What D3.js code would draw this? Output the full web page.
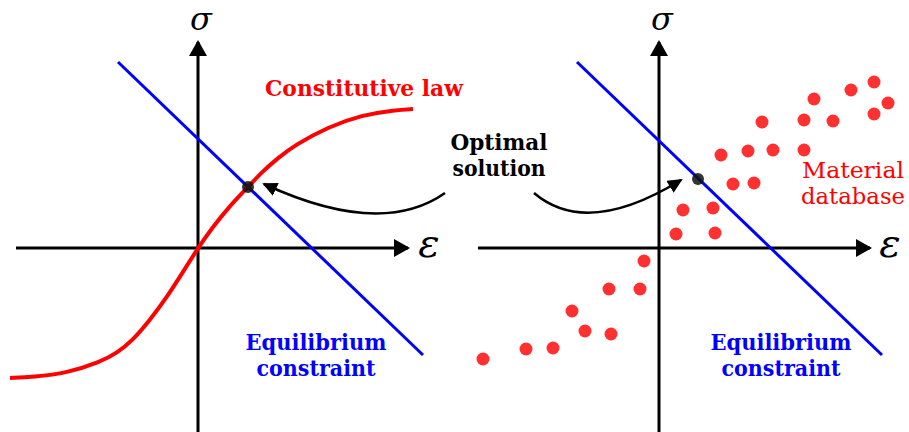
<!DOCTYPE html>
<html>
<head>
<meta charset="utf-8">
<script src="https://cdn.jsdelivr.net/npm/d3@7"></script>
<style>
  body { margin: 0; background: #fff; }
  svg text { font-family: "DejaVu Serif", "Liberation Serif", serif; }
</style>
</head>
<body>
<svg id="chart"></svg>
<script>
// constitutive law (strain, stress in plot units)
var lawStrain = [-1.88, -1.65, -1.31, -0.98, -0.81, -0.65, -0.48, -0.31, -0.15, 0, 0.14, 0.30, 0.50, 0.64, 0.80, 0.97, 1.30, 1.64, 1.97, 2.15];
var lawStress = [-1.30, -1.29, -1.25, -1.14, -1.05, -0.92, -0.72, -0.49, -0.24, 0, 0.20, 0.40, 0.61, 0.76, 0.90, 1.03, 1.21, 1.33, 1.38, 1.39];

// equilibrium constraint end points
var eqStrainLeft = [-0.80, 2.25];
var eqStrainRight = [-0.82, 2.23];
var eqStress = [1.86, -1.07];

// material database points (right panel)
var dbStrain = [2.15, 1.92, 2.29, 1.55, 2.15, 1.03, 1.45, 1.74, 0.62, 0.89, 1.14, 1.45, 0.74, 0.95, 0.24, 0.54, 0.17, 0.56, -0.15, -0.50, -0.19, -0.87, -0.74, -0.48, -1.33, -1.06, -1.76];
var dbStress = [1.66, 1.58, 1.45, 1.49, 1.34, 1.26, 1.28, 1.27, 0.93, 0.97, 0.98, 0.98, 0.64, 0.65, 0.38, 0.40, 0.14, 0.15, -0.13, -0.41, -0.41, -0.63, -0.83, -0.86, -1.01, -1.00, -1.11];

// optimal solutions [left, right]
var optStrain = [0.50, 0.39];
var optStress = [0.61, 0.69];

var width = 909,
    height = 432;

var svg = d3.select('#chart')
    .attr('width', width)
    .attr('height', height);

svg.append('rect').attr('width', width).attr('height', height).attr('fill', '#fff');

var defs = svg.append('defs');

function addHead(id, len, wide) {
    defs.append('marker')
        .attr('id', id)
        .attr('viewBox', '0 0 ' + len + ' ' + wide)
        .attr('refX', len - 2)
        .attr('refY', wide / 2)
        .attr('markerWidth', len)
        .attr('markerHeight', wide)
        .attr('markerUnits', 'userSpaceOnUse')
        .attr('orient', 'auto')
        .append('path')
        .attr('d', 'M0,0L' + len + ',' + (wide / 2) + 'L0,' + wide + 'Z')
        .attr('fill', '#000');
}
addHead('axisHead', 16, 18);
addHead('noteHead', 15, 14);

function makePanel(ox) {
    return {
        x: d3.scaleLinear().domain([0, 1]).range([ox, ox + 100]),
        y: d3.scaleLinear().domain([0, 1]).range([248, 148])
    };
}

var left = makePanel(198),
    right = makePanel(659);

function drawAxes(p, xFrom, xTo) {
    var g = svg.append('g');
    g.append('line')
        .attr('x1', p.x(xFrom)).attr('x2', p.x(xTo))
        .attr('y1', p.y(0)).attr('y2', p.y(0))
        .attr('stroke', '#000').attr('stroke-width', 3)
        .attr('marker-end', 'url(#axisHead)');
    g.append('line')
        .attr('x1', p.x(0)).attr('x2', p.x(0))
        .attr('y1', p.y(-1.9)).attr('y2', p.y(2.06))
        .attr('stroke', '#000').attr('stroke-width', 3)
        .attr('marker-end', 'url(#axisHead)');
    g.append('text')
        .attr('x', p.x(0.03)).attr('y', p.y(2.18))
        .attr('text-anchor', 'middle')
        .attr('font-style', 'italic')
        .attr('font-size', 32)
        .text('σ');
    g.append('text')
        .attr('x', p.x(2.31)).attr('y', p.y(-0.09))
        .attr('text-anchor', 'middle')
        .attr('font-style', 'italic')
        .attr('font-size', 40)
        .text('ε');
}

drawAxes(left, -1.82, 2.10);
drawAxes(right, -1.81, 2.11);

// equilibrium lines
[[left, eqStrainLeft], [right, eqStrainRight]].forEach(function(d) {
    var p = d[0];
    svg.append('line')
        .attr('x1', p.x(d[1][0])).attr('y1', p.y(eqStress[0]))
        .attr('x2', p.x(d[1][1])).attr('y2', p.y(eqStress[1]))
        .attr('stroke', '#0000ff')
        .attr('stroke-width', 3);
});

// constitutive law
var lawData = lawStrain.map(function(e, i) { return [e, lawStress[i]]; });
var lawLine = d3.line()
    .x(function(d) { return left.x(d[0]); })
    .y(function(d) { return left.y(d[1]); })
    .curve(d3.curveBasis);

svg.append('path')
    .datum(lawData)
    .attr('d', lawLine)
    .attr('fill', 'none')
    .attr('stroke', '#ff0000')
    .attr('stroke-width', 4);

// material database
svg.append('g').selectAll('circle')
    .data(dbStrain.map(function(e, i) { return [e, dbStress[i]]; }))
    .enter().append('circle')
    .attr('cx', function(d) { return right.x(d[0]); })
    .attr('cy', function(d) { return right.y(d[1]); })
    .attr('r', 6.5)
    .attr('fill', '#ff3030');

// optimal solutions
[left, right].forEach(function(p, i) {
    svg.append('circle')
        .attr('cx', p.x(optStrain[i]))
        .attr('cy', p.y(optStress[i]))
        .attr('r', 6)
        .attr('fill', '#111')
        .attr('fill-opacity', 0.85);
});

// curved pointers from the label
function pointer(p, from, ctrl, to) {
    var path = d3.path();
    path.moveTo(p.x(from[0]), p.y(from[1]));
    path.quadraticCurveTo(p.x(ctrl[0]), p.y(ctrl[1]), p.x(to[0]), p.y(to[1]));
    svg.append('path')
        .attr('d', path.toString())
        .attr('fill', 'none')
        .attr('stroke', '#000')
        .attr('stroke-width', 2.5)
        .attr('marker-end', 'url(#noteHead)');
}
pointer(left, [2.47, 0.55], [1.83, 0.10], [0.66, 0.64]);
pointer(right, [-1.25, 0.55], [-0.72, 0.10], [0.22, 0.68]);

// labels; widths follow the reference lettering
function label(p, x, y, lines, lens, color, weight, size, anchor) {
    var t = svg.append('text')
        .attr('x', p.x(x))
        .attr('y', p.y(y))
        .attr('fill', color)
        .attr('font-weight', weight)
        .attr('font-size', size)
        .attr('text-anchor', anchor);
    lines.forEach(function(s, i) {
        t.append('tspan')
            .attr('x', p.x(x))
            .attr('dy', i === 0 ? 0 : 26)
            .attr('textLength', lens[i])
            .attr('lengthAdjust', 'spacingAndGlyphs')
            .text(s);
    });
}

label(left, 0.67, 1.52, ['Constitutive law'], [198], '#ff0000', 'bold', 22, 'start');
label(left, 3.01, 0.98, ['Optimal', 'solution'], [97, 93], '#000', 'bold', 22, 'middle');
label(left, 1.18, -1.02, ['Equilibrium', 'constraint'], [141, 119], '#0000ff', 'bold', 22, 'middle');
label(right, 1.22, -1.02, ['Equilibrium', 'constraint'], [141, 119], '#0000ff', 'bold', 22, 'middle');
label(right, 1.94, 0.70, ['Material', 'database'], [102, 104], '#ff0000', 'normal', 23, 'middle');
</script>
</body>
</html>
